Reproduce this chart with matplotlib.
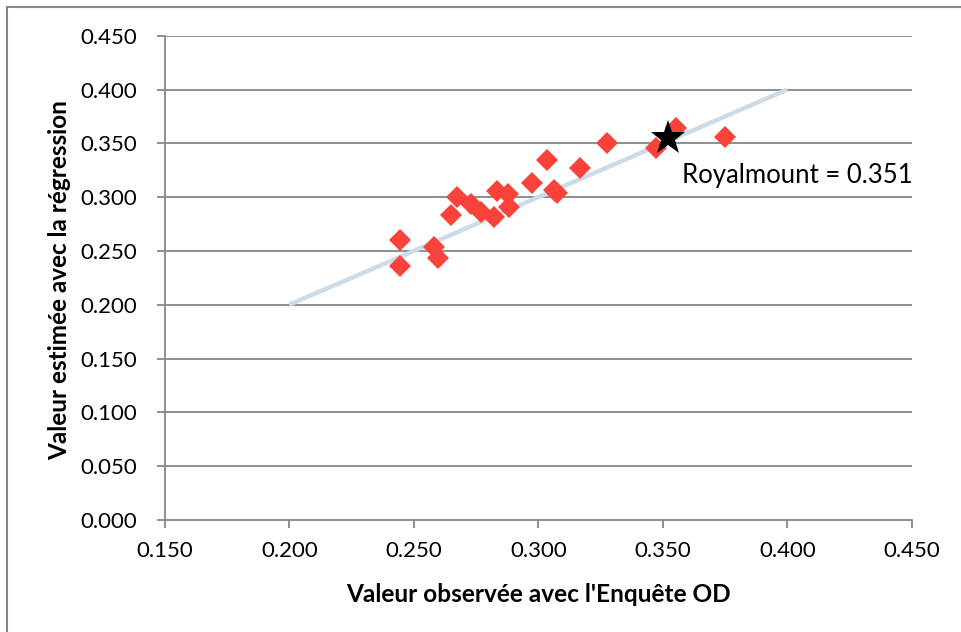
import matplotlib
matplotlib.use("Agg")
import matplotlib.pyplot as plt
from matplotlib.patches import Rectangle

# Data
obs = [0.2444, 0.2444, 0.2582, 0.2596, 0.2648, 0.2674, 0.2730, 0.2770, 0.2822,
       0.2836, 0.2880, 0.2884, 0.2976, 0.3034, 0.3062, 0.3074, 0.3166, 0.3276,
       0.3474, 0.3552, 0.3748]
est = [0.2600, 0.2360, 0.2540, 0.2430, 0.2830, 0.3005, 0.2940, 0.2860, 0.2815,
       0.3060, 0.3025, 0.2910, 0.3130, 0.3345, 0.3065, 0.3035, 0.3270, 0.3500,
       0.3460, 0.3640, 0.3555]
line_x = [0.200, 0.400]
line_y = [0.200, 0.400]
star_x = [0.352]
star_y = [0.355]
label_text = "Royalmount = 0.351"
xticks = [0.150, 0.200, 0.250, 0.300, 0.350, 0.400, 0.450]
yticks = [0.000, 0.050, 0.100, 0.150, 0.200, 0.250, 0.300, 0.350, 0.400, 0.450]

plt.rcParams['font.family'] = ['Lato', 'DejaVu Sans']

fig = plt.figure(figsize=(9.62, 6.32), dpi=100)
# outer frame (partially visible)
fig.patches.append(Rectangle((7/962, -0.05), 1.2, 1 - 7/632 + 0.05,
                             transform=fig.transFigure, fill=False,
                             edgecolor='#868686', linewidth=1.5))

ax = fig.add_axes([164.7/962, 1 - 520/632, (912 - 164.7)/962, (520 - 35.7)/632])
ax.set_xlim(0.150, 0.450)
ax.set_ylim(0.000, 0.450)
ax.set_xticks(xticks)
ax.set_yticks(yticks)
ax.set_xticklabels([f"{v:.3f}" for v in xticks])
ax.set_yticklabels([f"{v:.3f}" for v in yticks])

for y in yticks[1:]:
    ax.axhline(y, color='#868686', linewidth=1.3, zorder=0)

for s in ['top', 'right']:
    ax.spines[s].set_visible(False)
for s in ['left', 'bottom']:
    ax.spines[s].set_color('#868686')
    ax.spines[s].set_linewidth(1.3)

ax.tick_params(axis='both', direction='out', length=6, width=1.3, color='#868686',
               labelsize=16)
ax.tick_params(axis='y', pad=13.5)
ax.tick_params(axis='x', pad=9)

ax.plot(line_x, line_y, color='#CBDCE8', linewidth=3.2, solid_capstyle='butt', zorder=2)
ax.plot(obs, est, linestyle='none', marker='D', markersize=11,
        color='#F9433A', markeredgewidth=0, zorder=3)
ax.plot(star_x, star_y, linestyle='none', marker='*', markersize=26,
        color='black', markeredgewidth=0, zorder=4)
ax.text(0.3576, 0.3205, label_text, fontsize=18.5, va='center', ha='left', zorder=5)

ax.set_xlabel("Valeur observée avec l'Enquête OD", fontsize=17.6, fontweight='bold',
              va='center')
ax.set_ylabel("Valeur estimée avec la régression", fontsize=17.5, fontweight='bold',
              va='center')
ax.xaxis.set_label_coords(0.5, (520 - 594) / 484.3)
ax.yaxis.set_label_coords((60 - 164.7) / 747.3, (520 - 280) / 484.3)

fig.savefig("out.png", dpi=100)
